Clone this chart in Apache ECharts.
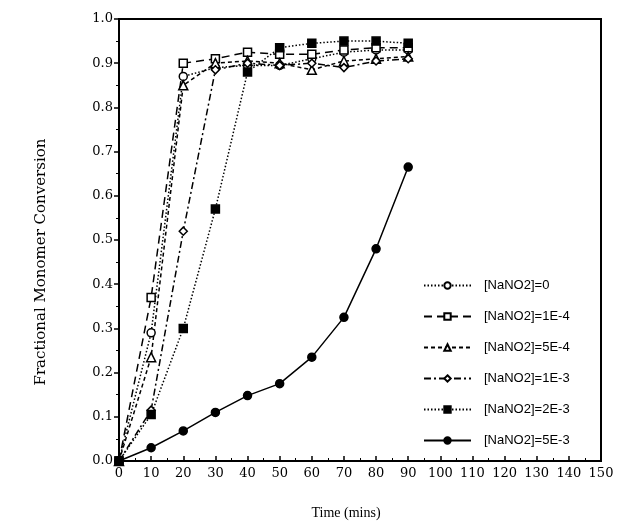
<!DOCTYPE html>
<html>
<head>
<meta charset="utf-8">
<script src="https://cdn.jsdelivr.net/npm/echarts@6/dist/echarts.min.js"></script>
<style>
  html, body { margin: 0; padding: 0; background: #fff; }
  #main { width: 618px; height: 525px; }
</style>
</head>
<body>
<div id="main"></div>
<script>
// time points (mins)
const times = [0, 10, 20, 30, 40, 50, 60, 70, 80, 90];

// fractional conversion for each nitrite level
const conv0    = [0, 0.29, 0.87, 0.89, 0.895, 0.895, 0.91, 0.925, 0.93, 0.93];
const conv1e4  = [0, 0.37, 0.90, 0.91, 0.925, 0.92, 0.92, 0.93, 0.935, 0.935];
const conv5e4  = [0, 0.235, 0.85, 0.90, 0.905, 0.90, 0.885, 0.905, 0.91, 0.915];
const conv1e3  = [0, 0.115, 0.52, 0.885, 0.90, 0.895, 0.90, 0.89, 0.905, 0.91];
const conv2e3  = [0, 0.105, 0.30, 0.57, 0.88, 0.935, 0.945, 0.95, 0.95, 0.945];
const conv5e3  = [0, 0.03, 0.068, 0.11, 0.148, 0.175, 0.235, 0.325, 0.48, 0.665];

const names = ['[NaNO2]=0', '[NaNO2]=1E-4', '[NaNO2]=5E-4', '[NaNO2]=1E-3', '[NaNO2]=2E-3', '[NaNO2]=5E-3'];

const pairs = arr => times.map((t, i) => [t, arr[i]]);

const chartDom = document.getElementById('main');
const myChart = echarts.init(chartDom);

const serif = '"DejaVu Serif", "Liberation Serif", serif';

function mk(name, data, symbol, filled, dash) {
  return {
    name: name,
    type: 'line',
    data: pairs(data),
    symbol: symbol,
    symbolSize: symbol === 'triangle' ? 9 : 8,
    showAllSymbol: true,
    lineStyle: { color: '#000', width: 1.5, type: dash },
    itemStyle: { color: filled ? '#000' : '#fff', borderColor: '#000', borderWidth: 1.5 },
    emphasis: { disabled: true },
    animation: false
  };
}

const option = {
  backgroundColor: '#fff',
  animation: false,
  grid: {
    left: 119, right: 17, top: 19, bottom: 56,
    show: true, borderColor: '#000', borderWidth: 2, backgroundColor: 'transparent'
  },
  legend: {
    orient: 'vertical',
    left: 418,
    top: 274,
    itemWidth: 47,
    itemHeight: 8,
    itemGap: 18,
    textStyle: { fontFamily: '"Liberation Sans", sans-serif', fontSize: 13, color: '#000', padding: [0, 0, 0, 8] },
    data: names
  },
  xAxis: {
    type: 'value',
    min: 0, max: 150, interval: 10,
    name: 'Time (mins)',
    nameLocation: 'middle',
    nameGap: 45,
    nameTextStyle: { fontFamily: '"Liberation Serif", serif', fontSize: 14, color: '#000', padding: [0, 28, 0, 0] },
    axisLine: { show: true, lineStyle: { color: '#000', width: 2 } },
    axisTick: { show: true, inside: true, length: 5, lineStyle: { color: '#000', width: 1.5 } },
    minorTick: { show: true, splitNumber: 2, length: 3, lineStyle: { color: '#000', width: 1 } },
    axisLabel: { fontFamily: serif, fontSize: 13, color: '#000', margin: 6 },
    splitLine: { show: false }
  },
  yAxis: {
    type: 'value',
    min: 0, max: 1, interval: 0.1,
    name: 'Fractional Monomer Conversion',
    nameLocation: 'middle',
    nameGap: 70,
    nameTextStyle: { fontFamily: serif, fontSize: 15, color: '#000', padding: [0, 44, 0, 0] },
    axisLine: { show: true, lineStyle: { color: '#000', width: 2 } },
    axisTick: { show: true, inside: false, length: 5, lineStyle: { color: '#000', width: 1.5 } },
    minorTick: { show: true, splitNumber: 2, length: 3, lineStyle: { color: '#000', width: 1 } },
    axisLabel: { fontFamily: serif, fontSize: 13, color: '#000', margin: 6, formatter: v => v.toFixed(1) },
    splitLine: { show: false }
  },
  series: [
    mk(names[0], conv0, 'circle', false, [1.5, 2]),
    mk(names[1], conv1e4, 'rect', false, [8, 5]),
    mk(names[2], conv5e4, 'triangle', false, [4, 3]),
    mk(names[3], conv1e3, 'diamond', false, [7, 3, 2, 3]),
    mk(names[4], conv2e3, 'rect', true, [1.5, 2]),
    mk(names[5], conv5e3, 'circle', true, 'solid')
  ]
};

option && myChart.setOption(option);
</script>
</body>
</html>
